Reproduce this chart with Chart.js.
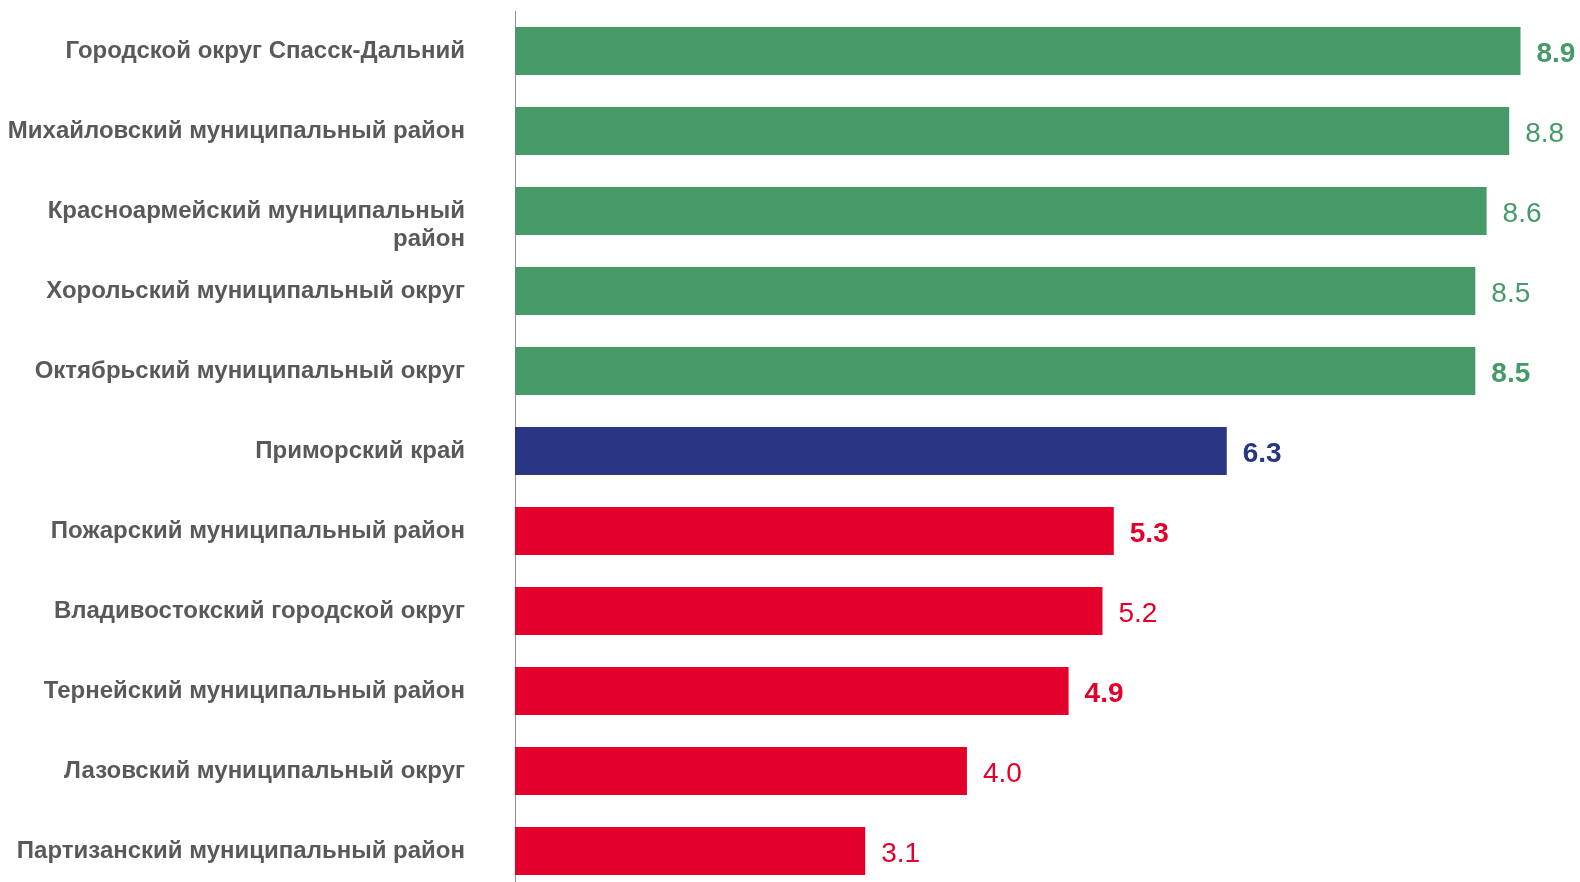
<!DOCTYPE html>
<html>
<head>
<meta charset="utf-8">
<script src="https://cdn.jsdelivr.net/npm/chart.js@4"></script>
<style>
  html, body { margin: 0; padding: 0; background: #fff; overflow: hidden; }
  #wrap { width: 1580px; height: 891px; }
</style>
</head>
<body>
<div id="wrap"><canvas id="c" width="1580" height="891"></canvas></div>
<script>
const categories = [
  "Городской округ Спасск-Дальний",
  "Михайловский муниципальный район",
  ["", "Красноармейский муниципальный", "район"],
  "Хорольский муниципальный округ",
  "Октябрьский муниципальный округ",
  "Приморский край",
  "Пожарский муниципальный район",
  "Владивостокский городской округ",
  "Тернейский муниципальный район",
  "Лазовский муниципальный округ",
  "Партизанский муниципальный район"
];
const values = [8.9, 8.8, 8.6, 8.5, 8.5, 6.3, 5.3, 5.2, 4.9, 4.0, 3.1];
const boldLabels = [true, false, false, false, true, true, true, false, true, false, false];
const groups = ["green", "green", "green", "green", "green", "navy", "red", "red", "red", "red", "red"];
const palette = { green: "#459A68", navy: "#283683", red: "#E3002B" };
const barColors = groups.map(g => palette[g]);

const valueLabels = {
  id: "valueLabels",
  afterDatasetsDraw(chart) {
    const ctx = chart.ctx;
    const meta = chart.getDatasetMeta(0);
    ctx.save();
    ctx.textAlign = "left";
    ctx.textBaseline = "middle";
    meta.data.forEach((bar, i) => {
      ctx.font = (boldLabels[i] ? "bold " : "") + "28px 'Liberation Sans', Arial, sans-serif";
      ctx.fillStyle = barColors[i];
      ctx.fillText(values[i].toFixed(1), bar.x + 16, bar.y + 3);
    });
    ctx.restore();
  }
};

new Chart(document.getElementById("c"), {
  type: "bar",
  data: {
    labels: categories,
    datasets: [{
      data: values,
      backgroundColor: barColors,
      borderWidth: 0,
      categoryPercentage: 1,
      barPercentage: 0.6
    }]
  },
  options: {
    indexAxis: "y",
    responsive: false,
    animation: false,
    events: [],
    layout: { padding: { top: 11, bottom: 0, left: 0, right: 3 } },
    plugins: { legend: { display: false }, tooltip: { enabled: false } },
    scales: {
      x: {
        display: false,
        min: 0,
        max: 9.4
      },
      y: {
        afterFit(scale) {
          scale.width = 515;
          scale.paddingTop = 0;
          scale.paddingBottom = 0;
        },
        grid: { display: false, drawTicks: false },
        border: { display: true, color: "#8f8f8f", width: 1 },
        ticks: {
          autoSkip: false,
          padding: 50,
          color: "#595959",
          font: { family: "'Liberation Sans', Arial, sans-serif", size: 24, weight: "bold", lineHeight: 1.175 }
        }
      }
    }
  },
  plugins: [valueLabels]
});
</script>
</body>
</html>
